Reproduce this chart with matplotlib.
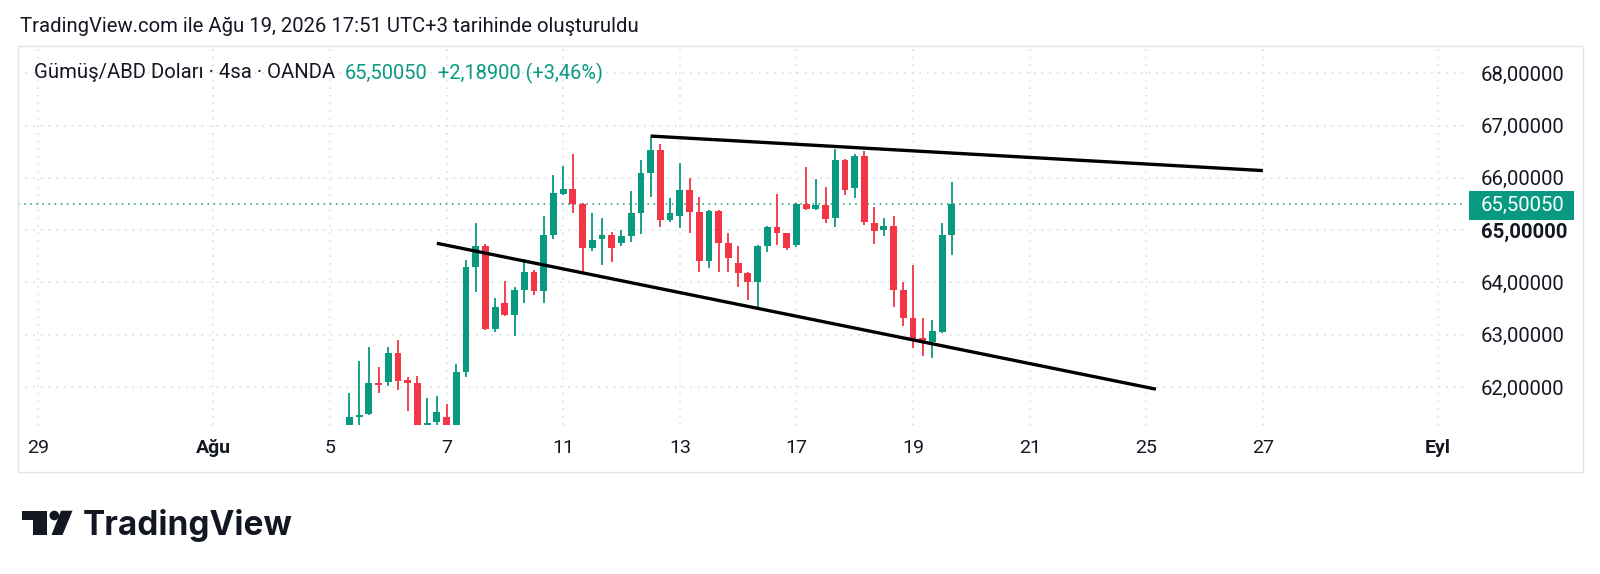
import numpy as np
import matplotlib
matplotlib.use("Agg")
import matplotlib.pyplot as plt
from matplotlib.patches import Rectangle, Polygon, Circle
from matplotlib.transforms import Affine2D

plt.rcParams['font.family'] = ['Roboto', 'DejaVu Sans']

# 4h candles, silver / USD (OANDA); first candle is the 3rd bar of Aug 5
first_bar = 2
opens = [61.20, 61.43, 61.48, 62.08, 62.09, 62.66, 62.14, 62.07, 61.25, 61.34,
         61.43, 61.20, 62.29, 64.30, 64.70, 63.12, 63.61, 63.38, 63.86, 64.21,
         63.84, 64.91, 65.69, 65.78, 65.50, 64.65, 64.83, 64.91, 64.75, 64.88,
         65.32, 66.09, 66.53, 65.20, 65.28, 65.77, 65.34, 64.41, 65.37, 64.75,
         64.37, 64.19, 64.00, 64.70, 65.07, 64.94, 64.72, 65.51, 65.40, 65.48,
         65.23, 66.34, 65.80, 66.42, 65.14, 65.00, 65.08, 63.86, 63.32, 62.93,
         62.87, 63.06, 64.91]
highs = [61.89, 62.50, 62.76, 62.38, 62.76, 62.90, 62.20, 62.21, 61.79, 61.83,
         61.68, 62.44, 64.43, 65.14, 64.74, 63.70, 64.02, 63.92, 64.44, 64.24,
         65.27, 66.06, 66.23, 66.46, 65.52, 65.32, 65.24, 64.96, 65.00, 65.74,
         66.34, 66.79, 66.64, 65.61, 66.28, 66.00, 65.64, 65.38, 65.39, 64.94,
         64.70, 64.20, 64.71, 65.08, 65.69, 64.95, 65.52, 66.20, 65.97, 65.83,
         66.55, 66.36, 66.46, 66.52, 65.44, 65.23, 65.27, 64.00, 64.33, 63.32,
         63.28, 65.14, 65.93]
lows = [61.10, 61.20, 61.46, 61.88, 62.02, 61.94, 61.54, 61.10, 61.10, 61.20,
        61.10, 61.10, 62.20, 63.82, 63.10, 63.06, 63.35, 62.98, 63.61, 63.76,
        63.60, 64.83, 65.68, 65.33, 64.21, 64.60, 64.33, 64.39, 64.70, 64.78,
        64.92, 65.64, 65.07, 65.16, 65.04, 64.94, 64.21, 64.27, 64.21, 64.21,
        63.92, 63.67, 63.54, 64.59, 64.72, 64.63, 64.68, 65.39, 65.39, 65.13,
        65.07, 65.67, 65.61, 65.10, 64.74, 64.88, 63.53, 63.17, 62.74, 62.59,
        62.55, 63.04, 64.53]
closes = [61.43, 61.47, 62.08, 62.04, 62.66, 62.12, 62.07, 61.20, 61.32, 61.53,
          61.20, 62.29, 64.30, 64.70, 63.12, 63.54, 63.38, 63.86, 64.21, 63.84,
          64.91, 65.72, 65.78, 65.50, 64.65, 64.81, 64.91, 64.65, 64.88, 65.32,
          66.09, 66.53, 65.20, 65.32, 65.77, 65.34, 64.41, 65.37, 64.75, 64.46,
          64.19, 64.00, 64.70, 65.07, 64.94, 64.65, 65.51, 65.40, 65.48, 65.21,
          66.34, 65.76, 66.41, 65.16, 64.99, 65.08, 63.86, 63.32, 62.90, 62.85,
          63.08, 64.91, 65.5005]
last_price = 65.5005

# time axis: bar index of each label (6 bars per trading day)
tick_bars = [-30, -12, 0, 12, 24, 36, 48, 60, 72, 84, 96, 114]
tick_labels = ['29', 'Ağu', '5', '7', '11', '13', '17', '19', '21', '25', '27', 'Eyl']
month_labels = ['Ağu', 'Eyl']
price_ticks = [62, 63, 64, 65, 66, 67, 68]

# drawn trend lines (bar index, price)
upper_line_x = [33, 96]
upper_line_y = [66.80, 66.14]
lower_line_x = [11, 85]
lower_line_y = [64.75, 61.96]

GREEN = '#089981'
RED = '#F23645'
TEXT = '#131722'
GRID = '#d6d9e0'

W, H = 1600, 574
fig = plt.figure(figsize=(W / 100, H / 100), dpi=100)
fig.patch.set_facecolor('white')
# image pixel coords, origin top-left
px = Affine2D().scale(1 / W, -1 / H).translate(0, 1) + fig.transFigure

# chart pane
left, right, top, bottom = 18, 1465, 47, 425
ax = fig.add_axes([left / W, 1 - bottom / H, (right - left) / W, (bottom - top) / H])
ax.set_xlim(-32.1, 116.8)
ax.set_ylim(61.275, 68.503)
for s in ax.spines.values():
    s.set_visible(False)

# frame round pane + axes
fig.add_artist(Rectangle((18, 46), 1565, 426, transform=px, fill=False,
                         edgecolor='#e0e3eb', lw=1))

# grid
for y in price_ticks:
    ax.axhline(y, color=GRID, lw=1.1, ls=(0, (1, 4)), zorder=0)
for x in tick_bars:
    ax.axvline(x, color=GRID, lw=1.1, ls=(0, (1, 4)), zorder=0)
ax.axhline(last_price, color=GREEN, lw=1.1, ls=(0, (1, 3)), zorder=0)

# candles
o = np.array(opens)
h = np.array(highs)
l = np.array(lows)
c = np.array(closes)
xs = first_bar + np.arange(len(o))
cols = np.where(c >= o, GREEN, RED)
ax.vlines(xs, l, h, colors=cols, lw=1.3, zorder=2)
body_lo = np.minimum(o, c)
body_h = np.maximum(np.abs(c - o), 0.035)
ax.bar(xs, body_h, bottom=body_lo, width=0.7, color=cols, zorder=3, lw=0)

# trend lines
ax.plot(upper_line_x, upper_line_y, color='black', lw=2.4, solid_capstyle='butt', zorder=4)
ax.plot(lower_line_x, lower_line_y, color='black', lw=2.4, solid_capstyle='butt', zorder=4)

# axes ticks
ax.set_xticks(tick_bars)
ax.set_xticklabels(tick_labels)
ax.tick_params(axis='x', length=0, pad=10, labelsize=14, labelcolor=TEXT)
for lab in ax.get_xticklabels():
    if lab.get_text() in month_labels:
        lab.set_fontweight('bold')
ax.yaxis.tick_right()
ax.set_yticks(price_ticks)
ax.set_yticklabels([f'{v:.5f}'.replace('.', ',') for v in price_ticks])
ax.tick_params(axis='y', length=0, pad=11.5, labelsize=14.6, labelcolor=TEXT)
for lab in ax.get_yticklabels():
    if lab.get_text().startswith('65'):
        lab.set_fontweight('bold')

# last price tag
fig.add_artist(Rectangle((1469, 190.5), 105, 29, transform=px, color=GREEN, lw=0))
fig.text(1481 / W, 1 - 205 / H, f'{last_price:.5f}'.replace('.', ','),
         color='white', fontsize=14.6, ha='left', va='center')

# header
fig.text(20 / W, 1 - 27 / H, 'TradingView.com ile Ağu 19, 2026 17:51 UTC+3 tarihinde oluşturuldu',
         color=TEXT, fontsize=14.6, ha='left', va='center')
fig.text(34 / W, 1 - 73 / H, 'Gümüş/ABD Doları · 4sa · OANDA',
         color=TEXT, fontsize=14.6, ha='left', va='center')
fig.text(345 / W, 1 - 73 / H, '65,50050', color=GREEN, fontsize=14.4, ha='left', va='center')
fig.text(438 / W, 1 - 73 / H, '+2,18900 (+3,46%)', color=GREEN, fontsize=14.4,
         ha='left', va='center')

# logo
fig.add_artist(Polygon([(21.7, 510.7), (46.7, 510.7), (46.7, 535), (33.3, 535),
                        (33.3, 520), (21.7, 520)], closed=True, transform=px,
                       color=TEXT, lw=0))
fig.add_artist(Circle((54.3, 515.5), 4.8, transform=px, color=TEXT, lw=0))
fig.add_artist(Polygon([(61, 510.7), (72.5, 510.7), (62.5, 535), (51.5, 535)],
                       closed=True, transform=px, color=TEXT, lw=0))
fig.text(83 / W, 1 - 535 / H, 'TradingView', color=TEXT, fontsize=24,
         fontweight='bold', family=['Inter', 'DejaVu Sans'], ha='left', va='baseline')

fig.savefig('out.png', dpi=100)
